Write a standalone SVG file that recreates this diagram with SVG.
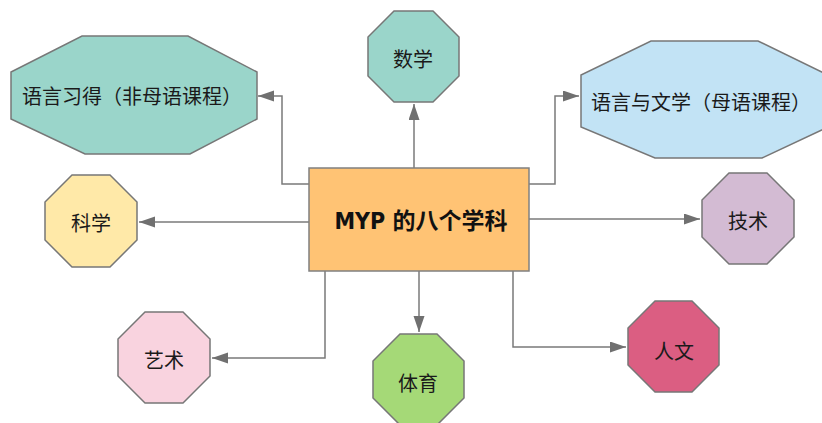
<svg xmlns="http://www.w3.org/2000/svg" width="822" height="423" viewBox="0 0 822 423">
<style>
.oct{stroke:#777777;stroke-width:1.5}
.lbl{font-family:"Noto Sans CJK SC",sans-serif;font-size:20px;fill:#1a1a1a;text-anchor:middle;dominant-baseline:central}
.big{font-size:20px}
.ctr{font-family:"DejaVu Sans Condensed","Noto Sans CJK SC",sans-serif;font-weight:bold;font-size:23px;fill:#111;text-anchor:middle;dominant-baseline:central}
.con{fill:none;stroke:#7a7a7a;stroke-width:1.5;marker-end:url(#arr)}
</style>
<defs>
<marker id="arr" markerUnits="userSpaceOnUse" markerWidth="16" markerHeight="12" refX="16" refY="5.5" orient="auto">
<path d="M0,0 L16,5.5 L0,11 z" fill="#707070"/>
</marker>
</defs>
<rect width="822" height="423" fill="#ffffff"/>
<g id="connectors">
<path class="con" d="M309,184 H282 V96 H258"/>
<path class="con" d="M414,168 V104"/>
<path class="con" d="M529,184 H555 V96 H579"/>
<path class="con" d="M309,222 H139"/>
<path class="con" d="M529,219 H700"/>
<path class="con" d="M325,271 V358 H212"/>
<path class="con" d="M419,271 V332"/>
<path class="con" d="M513,271 V347 H626"/>
</g>
<g id="center">
<rect x="309" y="168" width="220" height="103" fill="#FFC374" stroke="#808080" stroke-width="1.5"/>
<text class="ctr" x="421" y="221">MYP 的八个学科</text>
</g>
<g id="lang-acq">
<polygon class="oct" fill="#9AD5CA" points="82,36 188,36 257,72 257,119 190,154 85,154 11,119 11,72"/>
<text class="lbl big" x="132" y="95">语言习得（非母语课程）</text>
</g>
<g id="math">
<polygon class="oct" fill="#9AD5CA" points="394,11 433,11 459,37 459,76 433,102 394,102 368,76 368,37"/>
<text class="lbl" x="413" y="58">数学</text>
</g>
<g id="lang-lit">
<polygon class="oct" fill="#C2E3F5" points="651,41 758,41 828,75 828,127 762,158 655,158 581,127 581,75"/>
<text class="lbl big" x="701" y="101">语言与文学（母语课程）</text>
</g>
<g id="science">
<polygon class="oct" fill="#FFE9A8" points="72,175 110,175 137,202 137,240 110,267 72,267 45,240 45,202"/>
<text class="lbl" x="91" y="222">科学</text>
</g>
<g id="tech">
<polygon class="oct" fill="#D3BBD3" points="729,173 767,173 794,200 794,237 767,264 729,264 702,237 702,200"/>
<text class="lbl" x="748" y="220">技术</text>
</g>
<g id="art">
<polygon class="oct" fill="#F9D3DF" points="145,312 183,312 210,339 210,376 183,403 145,403 118,376 118,339"/>
<text class="lbl" x="164" y="359">艺术</text>
</g>
<g id="pe">
<polygon class="oct" fill="#A5D977" points="400,334 437,334 464,361 464,398 437,425 400,425 373,398 373,361"/>
<text class="lbl" x="418" y="382">体育</text>
</g>
<g id="humanities">
<polygon class="oct" fill="#DB5E82" points="655,301 692,301 719,328 719,365 692,392 655,392 628,365 628,328"/>
<text class="lbl" x="674" y="350">人文</text>
</g>
</svg>
